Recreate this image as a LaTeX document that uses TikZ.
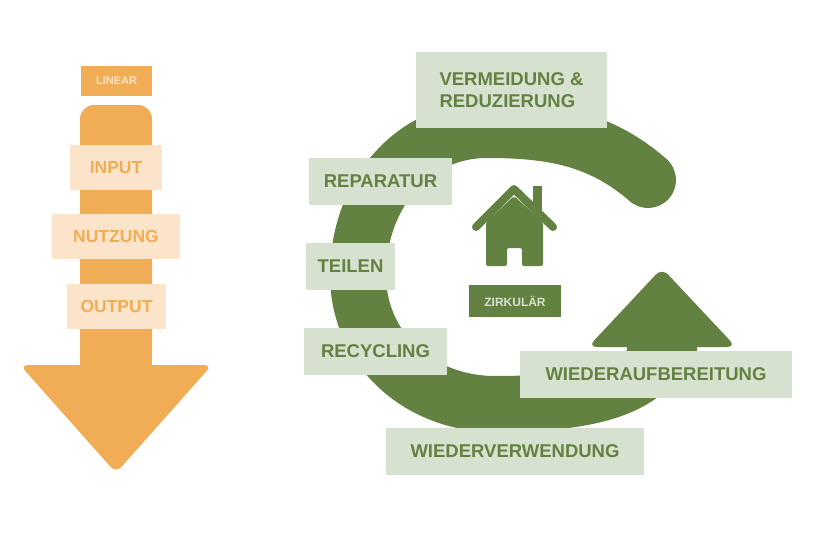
\documentclass[tikz,border=0pt]{standalone}
\usepackage{fontspec}
\setmainfont{Liberation Sans}
\definecolor{og}{HTML}{F0AD56}
\definecolor{ogl}{HTML}{FBE4C9}
\definecolor{gr}{HTML}{638140}
\definecolor{grl}{HTML}{D6E1D0}
\begin{document}
\begin{tikzpicture}[x=1pt,y=-1pt,
  gbox/.style={fill=grl,inner sep=0pt,font=\bfseries\fontsize{18.5}{22}\selectfont,text=gr,align=left},
  obox/.style={fill=ogl,inner sep=0pt,font=\bfseries\fontsize{17.5}{20}\selectfont,text=og}]
\useasboundingbox (0,0) rectangle (815,538);
% linear
\fill[og,rounded corners=14pt] (80,365) -- (80,105) -- (152,105) -- (152,365) -- cycle;
\fill[og,rounded corners=8pt] (20,365) -- (212,365) -- (116,473) -- cycle;
\fill[og] (80,350) rectangle (152,370);
\node[fill=og,minimum width=71pt,minimum height=30pt,inner sep=0pt,text=ogl,font=\bfseries\fontsize{11}{13}\selectfont] (lin) at (116.5,81) {LINEAR};
\node[obox,minimum width=92pt,minimum height=45pt] (in) at (116,167.5) {INPUT};
\node[obox,minimum width=128pt,minimum height=45pt] (nu) at (116,236.5) {NUTZUNG};
\node[obox,minimum width=99pt,minimum height=45pt] (out) at (116.5,306.5) {OUTPUT};
% circular ring
\draw[gr,line width=56pt,line cap=round] (648,180) .. controls (600,138) and (550,130) .. (487,130) .. controls (412,130) and (358,195) .. (358,275) .. controls (358,350) and (420,404) .. (495,404) .. controls (570,404) and (640,395) .. (662,350);
\draw[gr,line width=56pt] (662,352) -- (662,330);
\fill[gr] (627,330) rectangle (697,370);
\fill[gr,rounded corners=9pt] (588,347) -- (662,268) -- (736,347) -- cycle;
% house
\fill[gr] (533,186) rectangle (542,210);
\draw[gr,line width=8pt,line cap=round,line join=round] (476,227) -- (514,189) -- (553,227);
\fill[gr,rounded corners=2pt] (486,222) -- (514,196) -- (543,222) -- (543,266) -- (522,266) -- (522,248) -- (507,248) -- (507,266) -- (486,266) -- cycle;
\node[fill=gr,minimum width=92pt,minimum height=32pt,inner sep=0pt,text=grl,font=\bfseries\fontsize{12}{14}\selectfont] (zk) at (515,301) {ZIRKULÄR};
\node[gbox,minimum width=191pt,minimum height=76pt,align=left] (vr) at (511.5,90) {VERMEIDUNG \&\\REDUZIERUNG};
\node[gbox,minimum width=143pt,minimum height=47pt] (rp) at (380.5,181.5) {REPARATUR};
\node[gbox,minimum width=89pt,minimum height=47pt] (tl) at (350.5,266.5) {TEILEN};
\node[gbox,minimum width=143pt,minimum height=47pt] (rc) at (375.5,351.5) {RECYCLING};
\node[gbox,minimum width=272pt,minimum height=47pt] (wa) at (656,374.5) {WIEDERAUFBEREITUNG};
\node[gbox,minimum width=258pt,minimum height=47pt] (wv) at (515,451.5) {WIEDERVERWENDUNG};
\end{tikzpicture}
\end{document}
